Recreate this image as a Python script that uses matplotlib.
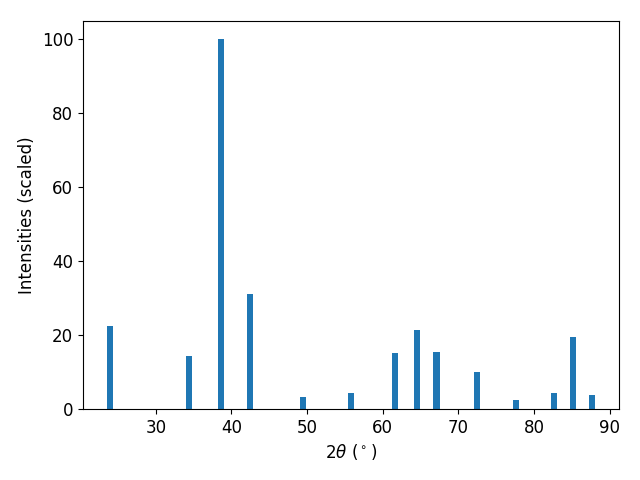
import numpy as np
import matplotlib
matplotlib.use("Agg")
import matplotlib.pyplot as plt

# posições dos picos (2theta) e intensidades relativas
dois_theta = [24.0, 34.4, 38.6, 42.5, 49.4, 55.8, 61.6, 64.5, 67.1,
              72.5, 77.6, 82.6, 85.1, 87.6]
intensidades = [22.5, 14.4, 100.0, 31.2, 3.3, 4.3, 15.2, 21.4, 15.4,
                10.0, 2.4, 4.3, 19.5, 3.8]

plt.rcParams['font.size'] = 12

fig, ax = plt.subplots(figsize=(6.4, 4.8), dpi=100)
ax.bar(dois_theta, intensidades, width=0.8)
ax.set_xlabel(r"2$\theta$ ($^\circ$)")
ax.set_ylabel("Intensities (scaled)")
fig.subplots_adjust(left=83/640, right=619/640, top=1 - 21/480, bottom=1 - 409/480)
fig.savefig("out.png")
